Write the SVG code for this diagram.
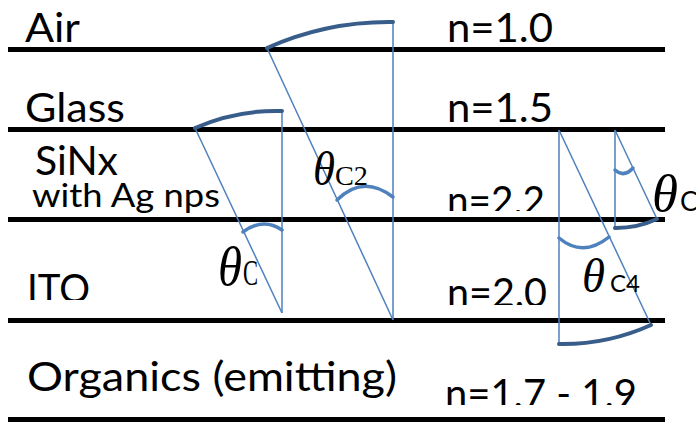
<svg xmlns="http://www.w3.org/2000/svg" width="696" height="422" viewBox="0 0 696 422">
<style>
.lbl{font-family:Lato,"Liberation Sans",sans-serif;font-size:41px;fill:#000}
.sm{font-size:32px}
.bd{stroke:#000;stroke-width:5;fill:none}
.ray{stroke:#4F81BD;stroke-width:1.5;fill:none}
.ang{stroke:#4F81BD;stroke-width:3.5;fill:none;stroke-linecap:round}
.arc{stroke:#385D8A;stroke-width:4;fill:none;stroke-linecap:round}
.th{font-family:"Liberation Serif",serif;font-style:italic;fill:#000}
.sub{font-family:"Liberation Serif",serif;fill:#000}
.subs{font-family:Lato,"Liberation Sans",sans-serif;fill:#000}
</style>
<defs>
<clipPath id="cITO"><rect x="0" y="0" width="696" height="300"/></clipPath>
<clipPath id="cN22"><rect x="0" y="0" width="696" height="211"/></clipPath>
<clipPath id="cN20"><rect x="0" y="0" width="696" height="305"/></clipPath>
<clipPath id="cN17"><rect x="0" y="0" width="696" height="405"/></clipPath>
</defs>

<g id="interfaces">
<line class="bd" x1="8" y1="49.5" x2="665" y2="49.5"/>
<line class="bd" x1="8" y1="129.5" x2="665" y2="129.5"/>
<line class="bd" x1="8" y1="219.5" x2="665" y2="219.5"/>
<line class="bd" x1="8" y1="320.5" x2="665" y2="320.5"/>
<line class="bd" x1="8" y1="419.5" x2="665" y2="419.5"/>
</g>

<g id="layer-air">
<text class="lbl" x="25" y="42" textLength="55" lengthAdjust="spacingAndGlyphs">Air</text>
<text class="lbl" x="447" y="42" textLength="106" lengthAdjust="spacingAndGlyphs">n=1.0</text>
</g>
<g id="layer-glass">
<text class="lbl" x="25" y="122" textLength="100" lengthAdjust="spacingAndGlyphs">Glass</text>
<text class="lbl" x="447" y="122" textLength="106" lengthAdjust="spacingAndGlyphs">n=1.5</text>
</g>
<g id="layer-sinx">
<text class="lbl" x="35" y="175" textLength="83" lengthAdjust="spacingAndGlyphs">SiNx</text>
<text class="lbl sm" x="32" y="207" textLength="188" lengthAdjust="spacingAndGlyphs">with Ag nps</text>
<text class="lbl" x="447" y="215" textLength="98" lengthAdjust="spacingAndGlyphs" clip-path="url(#cN22)">n=2.2</text>
</g>
<g id="layer-ito">
<text class="lbl" x="27" y="303" textLength="63" lengthAdjust="spacingAndGlyphs" clip-path="url(#cITO)">ITO</text>
<text class="lbl" x="447" y="307" textLength="100" lengthAdjust="spacingAndGlyphs" clip-path="url(#cN20)">n=2.0</text>
</g>
<g id="layer-organics">
<text class="lbl" x="27" y="391" textLength="370" lengthAdjust="spacingAndGlyphs">Organics (emitting)</text>
<text class="lbl" x="445" y="408" textLength="192" lengthAdjust="spacingAndGlyphs" clip-path="url(#cN17)">n=1.7 - 1.9</text>
</g>

<g id="connectors">
<line class="ray" x1="195" y1="128" x2="282" y2="313"/>
<line class="ray" x1="282" y1="111" x2="282" y2="313"/>
<path class="arc" d="M195,128 A202,202 0 0 1 282,111"/>
<path class="ang" d="M243,232 Q263,217 282,230"/>
<line class="ray" x1="267" y1="48" x2="393" y2="320"/>
<line class="ray" x1="393" y1="22" x2="393" y2="320"/>
<path class="arc" d="M267,48 A298,298 0 0 1 393,22"/>
<path class="ang" d="M337,200 Q363,174 393,197"/>
<line class="ray" x1="559" y1="130" x2="559" y2="344"/>
<line class="ray" x1="559" y1="130" x2="651" y2="325"/>
<path class="arc" d="M651,325 A214,214 0 0 1 559,344"/>
<path class="ang" d="M559,238 Q583,258 609,237"/>
<line class="ray" x1="615" y1="130" x2="615" y2="228"/>
<line class="ray" x1="615" y1="130" x2="657" y2="219"/>
<path class="arc" d="M657,219 A98,98 0 0 1 615,228"/>
<path class="ang" d="M615,170 Q624,178 633,168"/>
</g>

<g id="angle-labels">
<g id="theta-c">
<text class="th" x="218" y="285" font-size="54" textLength="24" lengthAdjust="spacingAndGlyphs">θ</text>
<text class="sub" x="243" y="285" font-size="36" textLength="15" lengthAdjust="spacingAndGlyphs">C</text>
</g>
<g id="theta-c2">
<text class="th" x="313" y="185" font-size="48" textLength="22" lengthAdjust="spacingAndGlyphs">θ</text>
<text class="sub" x="335" y="185" font-size="27" textLength="33" lengthAdjust="spacingAndGlyphs">C2</text>
</g>
<g id="theta-c4">
<text class="th" x="582" y="292" font-size="48" textLength="23" lengthAdjust="spacingAndGlyphs">θ</text>
<text class="subs" x="610" y="292" font-size="24" textLength="30" lengthAdjust="spacingAndGlyphs">C4</text>
</g>
<g id="theta-c-right">
<text class="th" x="652" y="211" font-size="52" textLength="26" lengthAdjust="spacingAndGlyphs">θ</text>
<text class="subs" x="680" y="211" font-size="27">C</text>
</g>
</g>
</svg>
